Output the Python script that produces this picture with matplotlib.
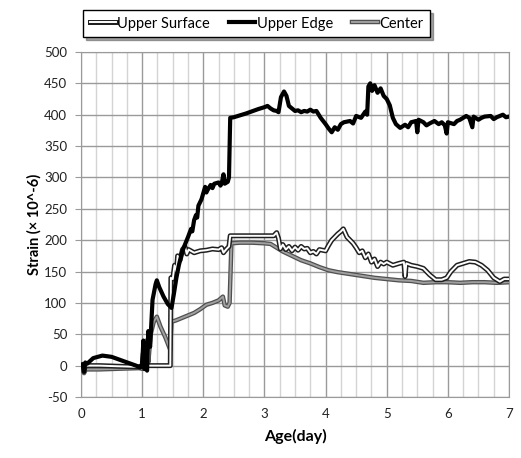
import matplotlib
matplotlib.use("Agg")
import matplotlib.pyplot as plt
import matplotlib.patheffects as pe
from matplotlib.ticker import MultipleLocator

plt.rcParams['font.family'] = ['Lato', 'DejaVu Sans']
plt.rcParams['axes.unicode_minus'] = False

# Upper Edge
edge_day = [0.00, 0.03, 0.05, 0.07, 0.10, 0.20, 0.35, 0.50, 0.70, 0.90, 0.97, 1.00, 1.02, 1.04,
            1.06, 1.08, 1.10, 1.13, 1.17, 1.22, 1.24, 1.28, 1.35, 1.42, 1.48, 1.52, 1.56, 1.60,
            1.63, 1.65, 1.70, 1.73, 1.75, 1.80, 1.82, 1.85, 1.88, 1.90, 1.92, 1.97, 2.03, 2.05,
            2.07, 2.12, 2.15, 2.18, 2.25, 2.28, 2.30, 2.33, 2.35, 2.40, 2.42, 2.44, 2.50, 2.70,
            2.90, 3.00, 3.05, 3.10, 3.15, 3.20, 3.23, 3.27, 3.32, 3.36, 3.40, 3.45, 3.50, 3.55,
            3.60, 3.65, 3.70, 3.75, 3.80, 3.85, 3.92, 4.00, 4.05, 4.10, 4.15, 4.20, 4.25, 4.30,
            4.40, 4.45, 4.50, 4.58, 4.65, 4.68, 4.70, 4.73, 4.76, 4.80, 4.85, 4.90, 4.95, 5.00,
            5.05, 5.10, 5.15, 5.22, 5.30, 5.35, 5.40, 5.48, 5.50, 5.52, 5.60, 5.65, 5.70, 5.78,
            5.85, 5.90, 5.95, 5.98, 6.00, 6.10, 6.15, 6.20, 6.30, 6.35, 6.40, 6.42, 6.50, 6.55,
            6.60, 6.70, 6.75, 6.80, 6.90, 6.95, 7.00]
edge_val = [0, 2, -10, 5, 3, 12, 16, 14, 7, 0, -3, 2, 40, -5,
            25, -8, 55, 30, 105, 130, 136, 125, 110, 98, 92, 115, 140, 160,
            172, 180, 193, 200, 205, 218, 214, 232, 240, 236, 255, 265, 285, 276,
            280, 288, 283, 290, 292, 287, 290, 305, 290, 293, 300, 395, 396, 402,
            409, 412, 414, 410, 407, 406, 404, 428, 437, 430, 414, 410, 406, 407,
            404, 406, 405, 408, 405, 406, 395, 385, 378, 372, 380, 376, 385, 388,
            390, 386, 398, 395, 405, 400, 445, 450, 438, 447, 435, 442, 430, 425,
            415, 395, 385, 379, 384, 380, 388, 390, 372, 392, 388, 383, 386, 390,
            385, 388, 383, 370, 388, 385, 390, 392, 398, 395, 380, 397, 392, 395,
            397, 398, 393, 396, 400, 396, 397]

# Upper Surface
surf_day = [0.00, 0.03, 0.05, 0.07, 0.30, 0.60, 0.95, 1.00, 1.02, 1.04, 1.06, 1.08, 1.20, 1.46,
            1.47, 1.50, 1.53, 1.56, 1.58, 1.62, 1.66, 1.70, 1.73, 1.76, 1.85, 1.95, 2.05, 2.15,
            2.25, 2.30, 2.33, 2.38, 2.42, 2.44, 2.60, 2.80, 3.00, 3.15, 3.20, 3.23, 3.26, 3.30,
            3.35, 3.40, 3.45, 3.50, 3.55, 3.60, 3.65, 3.70, 3.75, 3.80, 3.85, 3.90, 4.00, 4.05,
            4.10, 4.15, 4.20, 4.25, 4.29, 4.35, 4.40, 4.45, 4.50, 4.55, 4.60, 4.65, 4.70, 4.75,
            4.80, 4.85, 4.90, 4.95, 5.00, 5.10, 5.20, 5.28, 5.30, 5.32, 5.40, 5.50, 5.60, 5.70,
            5.80, 5.90, 5.98, 6.05, 6.15, 6.25, 6.35, 6.45, 6.55, 6.65, 6.75, 6.85, 6.92, 7.00]
surf_val = [0, 2, -8, 0, 0, -1, -2, 0, 20, -5, 10, 0, 0, 0,
            140, 138, 160, 150, 175, 168, 185, 190, 178, 185, 180, 183, 184, 186,
            185, 188, 180, 186, 190, 207, 207, 207, 207, 207, 212, 203, 186, 193,
            185, 190, 183, 189, 184, 190, 186, 187, 180, 182, 178, 185, 183, 192,
            200, 205, 210, 214, 218, 205, 200, 195, 188, 180, 183, 172, 178, 165,
            170, 158, 165, 162, 165, 160, 163, 165, 142, 163, 160, 158, 155, 145,
            137, 137, 140, 150, 160, 163, 166, 165, 160, 152, 140, 134, 138, 138]

# Center
cent_day = [0.00, 0.05, 0.08, 0.30, 0.60, 0.95, 1.00, 1.02, 1.04, 1.07, 1.10, 1.14, 1.19, 1.24,
            1.30, 1.38, 1.46, 1.48, 1.55, 1.65, 1.75, 1.85, 1.95, 2.05, 2.15, 2.25, 2.32, 2.35,
            2.40, 2.43, 2.46, 2.60, 2.80, 3.00, 3.10, 3.20, 3.30, 3.45, 3.60, 3.75, 3.90, 4.05,
            4.20, 4.40, 4.60, 4.80, 5.00, 5.20, 5.40, 5.60, 5.80, 6.00, 6.20, 6.40, 6.60, 6.80,
            7.00]
cent_val = [-3, -12, -6, -6, -5, -4, -5, 10, -5, 40, 5, 50, 70, 78,
            62, 45, 25, 70, 72, 76, 80, 84, 90, 97, 100, 104, 110, 96,
            94, 100, 195, 196, 196, 195, 194, 188, 182, 175, 168, 163, 157, 152,
            149, 146, 143, 140, 138, 136, 135, 132, 133, 133, 132, 133, 133, 132,
            133]

fig = plt.figure(figsize=(5.21, 4.58), dpi=100)
ax = fig.add_axes([0.1555, 0.1332, 0.8215, 0.7533])

ax.plot(cent_day, cent_val, color='#a0a0a0', lw=1.4, label='Center',
        path_effects=[pe.Stroke(linewidth=3.2, foreground='#505050'), pe.Normal()], zorder=3)
ax.plot(surf_day, surf_val, color='white', lw=1.4, label='Upper Surface',
        path_effects=[pe.Stroke(linewidth=3.6, foreground='#202020'), pe.Normal()], zorder=4)
ax.plot(edge_day, edge_val, color='black', lw=3.0, label='Upper Edge', zorder=5)

ax.set_xlim(0, 7)
ax.set_ylim(-50, 500)
ax.xaxis.set_major_locator(MultipleLocator(1))
ax.xaxis.set_minor_locator(MultipleLocator(0.25))
ax.yaxis.set_major_locator(MultipleLocator(50))
ax.grid(which='major', axis='both', color='#9a9a9a', lw=1.0)
ax.grid(which='minor', axis='x', color='#d4d4d4', lw=1.0)
ax.set_axisbelow(True)
for s in ax.spines.values():
    s.set_color('#9a9a9a')
ax.tick_params(axis='x', which='both', length=0, pad=8, labelsize=9.5, labelcolor='#222222')
ax.tick_params(axis='y', length=4, color='#9a9a9a', pad=6, labelsize=9.5, labelcolor='#222222')

ax.set_xlabel('Age(day)', fontsize=11.5, fontweight='bold', labelpad=6)
ax.set_ylabel('Strain (× 10^-6)', fontsize=10.5, fontweight='bold', labelpad=2)

h, l = ax.get_legend_handles_labels()
order = [1, 2, 0]
leg = fig.legend([h[i] for i in order], [l[i] for i in order], loc='upper left',
                 bbox_to_anchor=(83 / 521, 1 - 10 / 458), borderaxespad=0, ncol=3,
                 frameon=True, fancybox=False, shadow=True, edgecolor='black',
                 fontsize=10.5, handlelength=1.8, handletextpad=0.1, columnspacing=1.3,
                 borderpad=0.45)
leg.get_frame().set_linewidth(1.0)

fig.savefig('out.png', dpi=100)
